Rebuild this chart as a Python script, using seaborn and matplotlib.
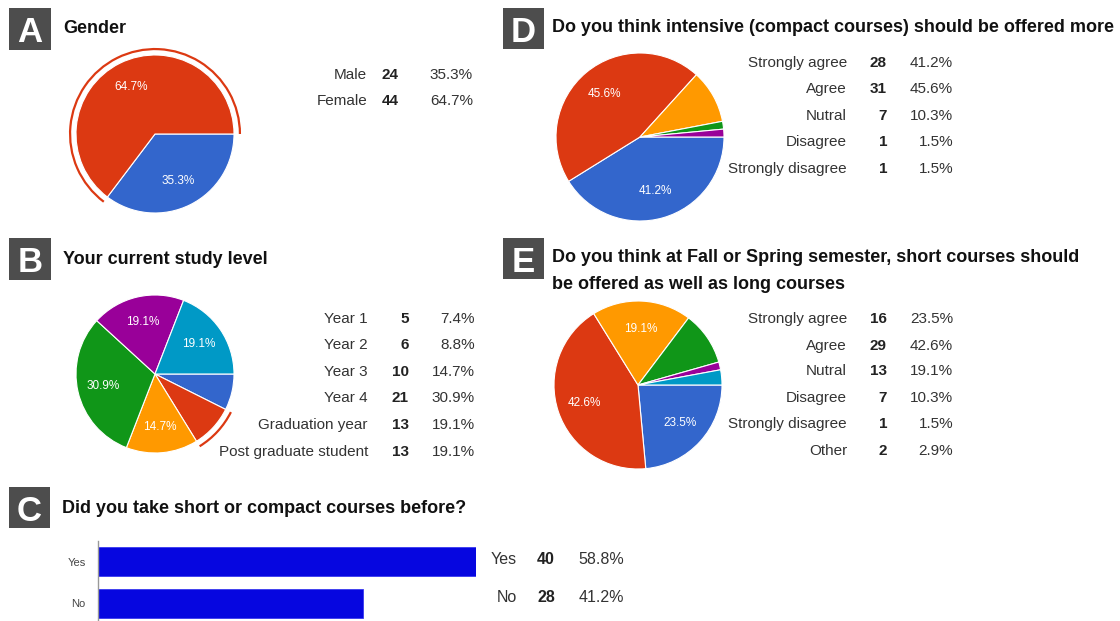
import numpy as np
import pandas as pd
import matplotlib
matplotlib.use('Agg')
import matplotlib.pyplot as plt
from matplotlib.patches import Arc, Rectangle
import seaborn as sns

# survey answers
gender_labels = ['Male', 'Female']
gender_counts = [24, 44]
gender_pcts = [35.3, 64.7]

level_labels = ['Year 1', 'Year 2', 'Year 3', 'Year 4', 'Graduation year', 'Post graduate student']
level_counts = [5, 6, 10, 21, 13, 13]
level_pcts = [7.4, 8.8, 14.7, 30.9, 19.1, 19.1]

before_labels = ['Yes', 'No']
before_counts = [40, 28]
before_pcts = [58.8, 41.2]

intensive_labels = ['Strongly agree', 'Agree', 'Nutral', 'Disagree', 'Strongly disagree']
intensive_counts = [28, 31, 7, 1, 1]
intensive_pcts = [41.2, 45.6, 10.3, 1.5, 1.5]

short_labels = ['Strongly agree', 'Agree', 'Nutral', 'Disagree', 'Strongly disagree', 'Other']
short_counts = [16, 29, 13, 7, 1, 2]
short_pcts = [23.5, 42.6, 19.1, 10.3, 1.5, 2.9]

google = ['#3366cc', '#dc3912', '#ff9900', '#109618', '#990099', '#0099c6']

sns.set_style('white')
plt.rcParams['font.family'] = ['Liberation Sans', 'DejaVu Sans']

W, H = 1120, 621
fig = plt.figure(figsize=(W / 100, H / 100), dpi=100)


def fx(x):
    return x / W


def fy(y):
    return 1 - y / H


def letter_box(ch, x, y, size=42):
    fig.add_artist(Rectangle((fx(x), fy(y + size)), size / W, size / H,
                             transform=fig.transFigure, facecolor='#4d4d4d', edgecolor='none'))
    fig.text(fx(x + size / 2), fy(y + 34), ch, color='white', fontsize=25,
             fontweight='bold', ha='center', va='baseline')


def title(txt, x, y, fs=13):
    fig.text(fx(x), fy(y), txt, fontsize=fs, fontweight='bold', color='#111111', va='baseline')


def pie(cx, cy, r, pcts, highlight=None):
    pad = 1.15
    s = r * pad
    ax = fig.add_axes([fx(cx - s), fy(cy + s), 2 * s / W, 2 * s / H])
    wedges, _ = ax.pie(pcts, colors=google[:len(pcts)], startangle=0, counterclock=False,
                       wedgeprops=dict(edgecolor='white', linewidth=0.8))
    ax.set_xlim(-pad, pad)
    ax.set_ylim(-pad, pad)
    for w, p in zip(wedges, pcts):
        if p >= 14:
            a = np.deg2rad((w.theta1 + w.theta2) / 2)
            ax.text(0.67 * np.cos(a), 0.67 * np.sin(a), f'{p}%', color='white',
                    fontsize=8.5, ha='center', va='center')
    if highlight is not None:
        w = wedges[highlight]
        ax.add_patch(Arc((0, 0), 2 * 1.075, 2 * 1.075, theta1=w.theta1, theta2=w.theta2,
                         color=google[highlight], lw=1.6))
    ax.axis('off')


def table(labels, counts, pcts, rows, xl, xc, xp, fs=11):
    for l, c, p, y in zip(labels, counts, pcts, rows):
        fig.text(fx(xl), fy(y + 5), l, ha='right', va='baseline', fontsize=fs, color='#333333')
        fig.text(fx(xc), fy(y + 5), str(c), ha='right', va='baseline', fontsize=fs,
                 fontweight='bold', color='#222222')
        fig.text(fx(xp), fy(y + 5), f'{p}%', ha='right', va='baseline', fontsize=fs, color='#333333')


# A
letter_box('A', 9, 8)
title('Gender', 63, 33)
pie(155, 134, 79, gender_pcts, highlight=1)
table(gender_labels, gender_counts, gender_pcts, [74, 100], 367, 399, 473)

# B
letter_box('B', 9, 238)
title('Your current study level', 63, 264)
pie(155, 374, 79, level_pcts, highlight=1)
table(level_labels, level_counts, level_pcts, [318, 344, 371, 397, 424, 451], 368, 409, 475)

# C
letter_box('C', 9, 487, size=41)
title('Did you take short or compact courses before?', 62, 513)
axc = fig.add_axes([fx(98), fy(621), (476 - 98) / W, (621 - 541) / H])
df = pd.DataFrame({'answer': before_labels, 'count': before_counts})
sns.barplot(data=df, x='count', y='answer', orient='h', color='#0606e0', saturation=1,
            width=0.7, edgecolor='#3a3af0', linewidth=0.6, ax=axc)
axc.set_xlim(0, 40)
axc.set_ylim(1.43, -0.5)
axc.set_xlabel('')
axc.set_ylabel('')
axc.set_xticks([])
for side in ['top', 'right', 'bottom']:
    axc.spines[side].set_visible(False)
axc.spines['left'].set_color('#999999')
axc.spines['left'].set_linewidth(1)
axc.tick_params(axis='y', length=0, pad=9, labelsize=8, labelcolor='#444444')
axc.patch.set_alpha(0)
table(before_labels, before_counts, before_pcts, [559, 597], 517, 555, 624, fs=11.5)

# D
letter_box('D', 503, 8, size=41)
title('Do you think intensive (compact courses) should be offered more', 552, 32)
pie(640, 137, 84, intensive_pcts)
table(intensive_labels, intensive_counts, intensive_pcts, [62, 88, 115, 141, 168], 847, 887, 953)

# E
letter_box('E', 503, 238, size=41)
title('Do you think at Fall or Spring semester, short courses should', 552, 262)
title('be offered as well as long courses', 552, 289)
pie(638, 385, 84, short_pcts)
table(short_labels, short_counts, short_pcts, [318, 345, 370, 397, 423, 450], 847, 887, 953)

fig.savefig('out.png', dpi=100)
